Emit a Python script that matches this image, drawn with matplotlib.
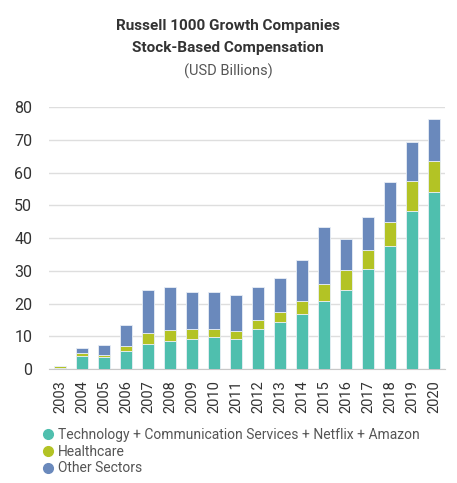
import matplotlib.pyplot as plt
import numpy as np
from matplotlib.lines import Line2D

# dades llegides del grafic (USD bilions)
years = [str(y) for y in range(2003, 2021)]
tech = [0.3, 3.9, 3.6, 5.4, 7.7, 8.5, 9.2, 9.9, 9.2, 12.2, 14.4, 16.7, 20.7, 24.1, 30.6, 37.6, 48.2, 54.0]
health = [0.5, 1.0, 0.7, 1.7, 3.3, 3.3, 3.0, 2.4, 2.5, 2.9, 3.1, 4.0, 5.2, 6.1, 5.7, 7.4, 9.3, 9.6]
other = [0.2, 1.6, 3.1, 6.2, 13.2, 13.4, 11.3, 11.2, 11.0, 9.9, 10.3, 12.6, 17.6, 9.4, 10.1, 12.0, 12.0, 12.7]
labels = ['Technology + Communication Services + Netflix + Amazon', 'Healthcare', 'Other Sectors']
colors = ['#4fbfae', '#b3c325', '#6a89bc']

plt.rcParams['font.family'] = ['Roboto', 'DejaVu Sans']

fig = plt.figure(figsize=(4.57, 4.83), dpi=100)
ax = fig.add_axes([0.1072, 0.236, 0.8665, 0.542])

x = np.arange(len(years))
w = 0.58
tech = np.array(tech); health = np.array(health); other = np.array(other)
ax.bar(x, tech, w, color=colors[0], edgecolor='#e8eef5', linewidth=0.6, zorder=3)
ax.bar(x, health, w, bottom=tech, color=colors[1], edgecolor='#e8eef5', linewidth=0.6, zorder=3)
ax.bar(x, other, w, bottom=tech + health, color=colors[2], edgecolor='#e8eef5', linewidth=0.6, zorder=3)

ax.set_xlim(-0.5, 17.5)
ax.set_ylim(0, 80)
ax.set_yticks(range(0, 81, 10))
ax.set_xticks(x)
ax.set_xticklabels(years, rotation=90)
ax.yaxis.grid(True, color='#dedede', linewidth=1, zorder=0)
for s in ['top', 'right', 'left']:
    ax.spines[s].set_visible(False)
ax.spines['bottom'].set_color('#c8c8c8')
ax.tick_params(axis='y', length=0, pad=12, labelsize=11.5, labelcolor='#333333')
ax.tick_params(axis='x', length=0, pad=8, labelsize=10.5, labelcolor='#333333')

fig.text(0.499, 0.947, 'Russell 1000 Growth Companies', ha='center', va='center',
         fontsize=11, fontweight='bold', color='#333333')
fig.text(0.499, 0.901, 'Stock-Based Compensation', ha='center', va='center',
         fontsize=11, fontweight='bold', color='#333333')
fig.text(0.499, 0.852, '(USD Billions)', ha='center', va='center',
         fontsize=10.5, color='#555555')

handles = [Line2D([], [], marker='o', linestyle='', markersize=7, color=c) for c in colors]
fig.legend(handles, labels, loc='upper left', bbox_to_anchor=(0.09, 0.114), frameon=False,
           fontsize=10, labelcolor='#555555', handletextpad=0.2, labelspacing=0.2,
           borderaxespad=0, borderpad=0, handlelength=1.0)

fig.savefig('out.png', dpi=100)
